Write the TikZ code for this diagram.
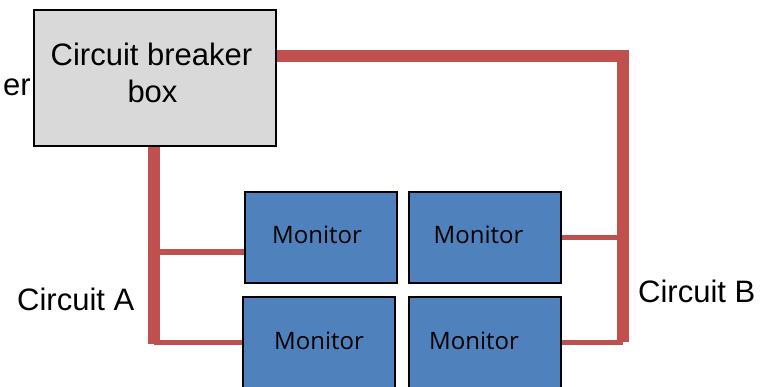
\documentclass[tikz,border=0pt]{standalone}
\usepackage{fontspec}
\setmainfont{Liberation Sans}
\newfontfamily\monfont{Open Sans}
\definecolor{wire}{HTML}{C0504D}
\definecolor{monblue}{HTML}{4F81BD}
\definecolor{boxgray}{HTML}{D9D9D9}
\begin{document}
\begin{tikzpicture}[x=1pt,y=-1pt,
  cbbox/.style={draw=black, line width=1.5pt, fill=boxgray, minimum width=242pt, minimum height=136pt, inner sep=0pt},
  monbox/.style={draw=black, line width=1.5pt, fill=monblue, minimum width=152pt, minimum height=91pt, inner sep=0pt},
  bigtxt/.style={inner sep=0pt, font=\fontsize{31}{37}\selectfont},
  montxt/.style={inner sep=0pt, anchor=base, font=\monfont\fontsize{24}{28}\selectfont},
  thickwire/.style={draw=wire, line width=12pt, line join=miter, line cap=butt},
  thinwire/.style={draw=wire, line width=5.5pt, line cap=butt}]
\useasboundingbox (0,0) rectangle (761,386);
\clip (0,0) rectangle (761,386);
% coordinates for wire ends
\coordinate (bR) at (623,342);
\coordinate (aB) at (154,344);
% boxes
\node[cbbox] (cb) at (155,78) {};
\node[monbox] (m1) at (321,237.5) {};
\node[monbox] (m2) at (485,237.5) {};
\node[monbox] (m3) at (319,342.5) {};
\node[monbox] (m4) at (485,342.5) {};
% wires
\draw[thickwire] ([yshift=22pt]cb.east) -| (bR);
\draw[thickwire] (cb.south -| aB) -- (aB);
\coordinate (m1w) at ([yshift=-14.5pt]m1.west);
\draw[thinwire] (m1w) -- (m1w -| aB);
\draw[thinwire] (m3.west) -- (m3.west -| aB);
\draw[thinwire] (m2.east) -- (m2.east -| bR);
\draw[thinwire] (m4.east) -- (m4.east -| bR);
% redraw box borders on top
\node[cbbox] at (cb) {};
\node[monbox] at (m1) {};
\node[monbox] at (m2) {};
\node[monbox] at (m3) {};
\node[monbox] at (m4) {};
% texts
\node[bigtxt, anchor=base] (cbt1) at (151.5,65) {Circuit breaker};
\node[bigtxt, anchor=base] (cbt2) at (152.5,102) {box};
\node[bigtxt, anchor=base east] (er) at (31,95) {er};
\node[bigtxt, anchor=base west] (ca) at (17,310) {Circuit A};
\node[bigtxt, anchor=base west] (cbl) at (638,302) {Circuit B};
\node[montxt] (t1) at (317,243) {Monitor};
\node[montxt] (t2) at (478.5,243) {Monitor};
\node[montxt] (t3) at (319,349) {Monitor};
\node[montxt] (t4) at (474,349) {Monitor};
\end{tikzpicture}
\end{document}
